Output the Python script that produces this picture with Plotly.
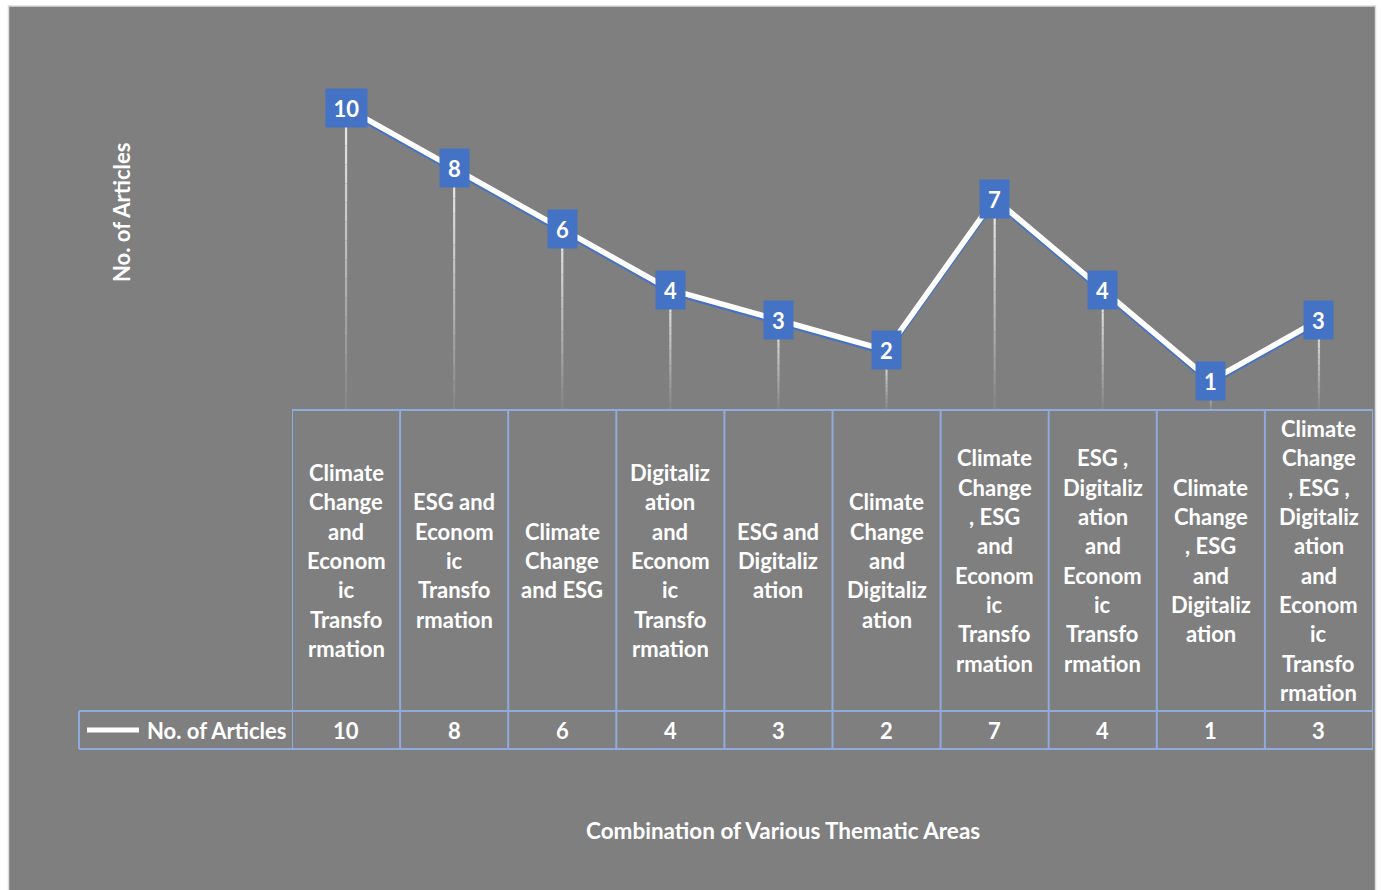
import plotly.graph_objects as go

# ---- data ----
categories = [
    "Climate Change and Economic Transformation",
    "ESG and Economic Transformation",
    "Climate Change and ESG",
    "Digitalization and Economic Transformation",
    "ESG and Digitalization",
    "Climate Change and Digitalization",
    "Climate Change, ESG and Economic Transformation",
    "ESG, Digitalization and Economic Transformation",
    "Climate Change, ESG and Digitalization",
    "Climate Change, ESG, Digitalization and Economic Transformation",
]
tick_labels = [
    "Climate<br>Change<br>and<br>Econom<br>ic<br>Transfo<br>rmation",
    "ESG and<br>Econom<br>ic<br>Transfo<br>rmation",
    "Climate<br>Change<br>and ESG",
    "Digitaliz<br>ation<br>and<br>Econom<br>ic<br>Transfo<br>rmation",
    "ESG and<br>Digitaliz<br>ation",
    "Climate<br>Change<br>and<br>Digitaliz<br>ation",
    "Climate<br>Change<br>, ESG<br>and<br>Econom<br>ic<br>Transfo<br>rmation",
    "ESG ,<br>Digitaliz<br>ation<br>and<br>Econom<br>ic<br>Transfo<br>rmation",
    "Climate<br>Change<br>, ESG<br>and<br>Digitaliz<br>ation",
    "Climate<br>Change<br>, ESG ,<br>Digitaliz<br>ation<br>and<br>Econom<br>ic<br>Transfo<br>rmation",
]
values = [10, 8, 6, 4, 3, 2, 7, 4, 1, 3]
series_name = "No. of Articles"
x_title = "Combination of Various Thematic Areas"
y_title = "No. of Articles"

# ---- styling / layout helpers ----
W, H = 1381, 890
FONT = "Lato"
FS = 22
GRAY = "#7f7f7f"
BLUE = "#4472c4"
GRID = "#8faadc"


def px(x):
    return x / W


def py(y):
    return 1 - y / H


n = len(values)
xs = list(range(n))

# main axis (y2): 0 at pixel 411, 12 at pixel 47 ; shadow axis (y) shifted down
y_main = [py(411), py(47)]
shift = 2.5 / H
y_shadow = [y_main[0] - shift, y_main[1] - shift]

fig = go.Figure()

# blue shadow line (drawn first, on the shifted axis)
fig.add_trace(go.Scatter(x=xs, y=values, mode="lines", yaxis="y",
                         line=dict(color=BLUE, width=5), hoverinfo="skip",
                         showlegend=False))

# drop lines with a white -> gray fade
bands = 16
c0 = (238, 238, 238)
c1 = (132, 132, 132)
for b in range(bands):
    t0 = b / bands
    t1 = (b + 1) / bands
    col = tuple(int(c0[k] + (c1[k] - c0[k]) * (t0 + t1) / 2) for k in range(3))
    bx, by = [], []
    for i, v in zip(xs, values):
        bx += [i, i, None]
        by += [v * (1 - t0), v * (1 - t1), None]
    fig.add_trace(go.Scatter(x=bx, y=by, mode="lines", yaxis="y2",
                             line=dict(color="rgb(%d,%d,%d)" % col, width=2.2),
                             hoverinfo="skip", showlegend=False))

# main white line
fig.add_trace(go.Scatter(x=xs, y=values, mode="lines", name=series_name,
                         yaxis="y2", line=dict(color="white", width=5.5),
                         showlegend=False))

annotations = []
# data labels
for i, v in zip(xs, values):
    annotations.append(dict(
        x=i, y=v, xref="x", yref="y2", text="<b>%d</b>" % v, showarrow=False,
        font=dict(family=FONT, size=FS, color="white"), bgcolor=BLUE,
        width=33 if v >= 10 else 21, height=30, borderpad=4,
        xanchor="center", yanchor="middle"))

# category labels in the table (one annotation per wrapped line)
row_top, row_mid, row_bot = 410, 711, 749
cell_mid = (row_top + row_mid) / 2
line_h = 29.3
for i, lab in enumerate(tick_labels):
    parts = lab.split("<br>")
    m = len(parts)
    for k, p in enumerate(parts):
        yc = cell_mid + (k - (m - 1) / 2) * line_h
        annotations.append(dict(
            x=i, y=py(yc), xref="x", yref="paper", text="<b>%s</b>" % p,
            showarrow=False, font=dict(family=FONT, size=FS, color="white"),
            xanchor="center", yanchor="middle"))

# value row
for i, v in zip(xs, values):
    annotations.append(dict(
        x=i, y=py((row_mid + row_bot) / 2), xref="x", yref="paper",
        text="<b>%d</b>" % v, showarrow=False,
        font=dict(family=FONT, size=FS, color="white"),
        xanchor="center", yanchor="middle"))

# legend cell text
annotations.append(dict(
    x=px(145), y=py(730), xref="paper", yref="paper",
    text="<b>%s</b>" % series_name, showarrow=False,
    font=dict(family=FONT, size=FS, color="white"),
    xanchor="left", yanchor="middle"))

# axis titles
annotations.append(dict(
    x=px(122), y=py(213), xref="paper", yref="paper",
    text="<b>%s</b>" % y_title, showarrow=False, textangle=-90,
    font=dict(family=FONT, size=FS, color="white"),
    xanchor="center", yanchor="middle"))
annotations.append(dict(
    x=px(783), y=py(830), xref="paper", yref="paper",
    text="<b>%s</b>" % x_title, showarrow=False,
    font=dict(family=FONT, size=FS + 0.5, color="white"),
    xanchor="center", yanchor="middle"))

shapes = []
# chart background
shapes.append(dict(type="rect", xref="paper", yref="paper", layer="below",
                   x0=px(8.5), x1=px(1375.5), y0=py(891), y1=py(6),
                   fillcolor=GRAY, line=dict(color="#d9d9d9", width=1.5)))
# table grid
shapes.append(dict(type="line", xref="x", yref="paper", x0=-0.5, x1=n - 0.5,
                   y0=py(row_top), y1=py(row_top), line=dict(color=GRID, width=2)))
shapes.append(dict(type="line", xref="paper", yref="paper", x0=px(79),
                   x1=px(1373), y0=py(row_mid), y1=py(row_mid),
                   line=dict(color=GRID, width=2)))
shapes.append(dict(type="line", xref="paper", yref="paper", x0=px(79),
                   x1=px(1373), y0=py(row_bot), y1=py(row_bot),
                   line=dict(color=GRID, width=2)))
shapes.append(dict(type="line", xref="paper", yref="paper", x0=px(79),
                   x1=px(79), y0=py(row_mid), y1=py(row_bot),
                   line=dict(color=GRID, width=2)))
for i in range(n + 1):
    shapes.append(dict(type="line", xref="x", yref="paper", x0=i - 0.5,
                       x1=i - 0.5, y0=py(row_top), y1=py(row_bot),
                       line=dict(color=GRID, width=2)))
# legend key
shapes.append(dict(type="line", xref="paper", yref="paper", x0=px(87),
                   x1=px(139), y0=py(730), y1=py(730),
                   line=dict(color="white", width=5)))

axis_common = dict(showgrid=False, zeroline=False, showticklabels=False,
                   ticks="", showline=False, fixedrange=True)
fig.update_layout(
    width=W, height=H, autosize=False,
    margin=dict(l=0, r=0, t=0, b=0, pad=0),
    paper_bgcolor="white", plot_bgcolor="rgba(0,0,0,0)",
    xaxis=dict(domain=[px(292), px(1373)], range=[-0.5, n - 0.5], **axis_common),
    yaxis=dict(domain=y_shadow, range=[0, 12], **axis_common),
    yaxis2=dict(domain=y_main, range=[0, 12], anchor="x", **axis_common),
    showlegend=False,
    annotations=annotations,
    shapes=shapes,
    font=dict(family=FONT, color="white"),
)

fig.write_html("out.html")
